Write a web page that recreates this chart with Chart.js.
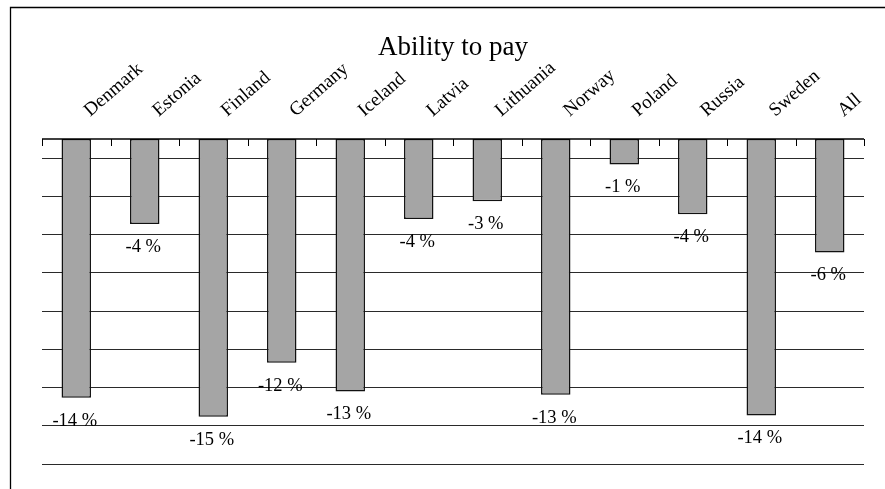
<!DOCTYPE html>
<html><head><meta charset="utf-8">
<script src="https://cdn.jsdelivr.net/npm/chart.js@4/dist/chart.umd.min.js"></script>
<style>html,body{margin:0;padding:0;background:#fff;}canvas{display:block;}</style>
</head><body>
<canvas id="c" width="885" height="489"></canvas>
<script>
const chartTitle = "Ability to pay";
const categories = ["Denmark","Estonia","Finland","Germany","Iceland","Latvia","Lithuania","Norway","Poland","Russia","Sweden","All"];
const values = [-13.54,-4.45,-14.53,-11.70,-13.21,-4.19,-3.25,-13.38,-1.34,-3.93,-14.46,-5.94];
const gridTicks = [-17,-15,-13,-11,-9,-7,-5,-3,-1];
const yMin = -17, yMax = 0;

const SERIF = '"Liberation Serif", "Times New Roman", serif';

const overlay = {
  id: 'overlay',
  beforeDraw(chart) {
    const ctx = chart.ctx;
    ctx.save();
    ctx.fillStyle = '#fff';
    ctx.fillRect(0, 0, chart.width, chart.height);
    ctx.restore();
  },
  afterDatasetsDraw(chart) {
    const ctx = chart.ctx, a = chart.chartArea, x = chart.scales.x, y = chart.scales.y;
    const y0 = y.getPixelForValue(0);
    const step = x.getPixelForValue(1) - x.getPixelForValue(0);
    ctx.save();
    // outer frame (left + top)
    ctx.strokeStyle = '#000';
    ctx.lineWidth = 1.3;
    ctx.beginPath();
    ctx.moveTo(10.5, chart.height); ctx.lineTo(10.5, 7.5); ctx.lineTo(chart.width, 7.5);
    ctx.stroke();
    // category axis line
    ctx.lineWidth = 1.5;
    ctx.beginPath(); ctx.moveTo(a.left, y0); ctx.lineTo(a.right, y0); ctx.stroke();
    // tick marks at category boundaries, pointing inside
    ctx.lineWidth = 1;
    ctx.beginPath();
    for (let i = 0; i <= categories.length; i++) {
      const px = Math.round(x.getPixelForValue(0) - step / 2 + i * step) + 0.5;
      ctx.moveTo(px, y0); ctx.lineTo(px, y0 + 7);
    }
    ctx.stroke();
    // title
    ctx.fillStyle = '#000';
    ctx.font = '27px ' + SERIF;
    ctx.textAlign = 'center';
    ctx.textBaseline = 'alphabetic';
    ctx.fillText(chartTitle, (a.left + a.right) / 2, 55);
    // rotated category labels
    ctx.font = '19px ' + SERIF;
    ctx.textAlign = 'left';
    categories.forEach((c, i) => {
      const px = x.getPixelForValue(i);
      ctx.save();
      ctx.translate(px + 14, 117);
      ctx.rotate(-41 * Math.PI / 180);
      ctx.fillText(c, 0, 0);
      ctx.restore();
    });
    // value labels under bar ends
    ctx.font = '18.5px ' + SERIF;
    ctx.textAlign = 'center';
    ctx.textBaseline = 'middle';
    const meta = chart.getDatasetMeta(0);
    values.forEach((v, i) => {
      const bar = meta.data[i];
      ctx.fillText(Math.round(v) + ' %', bar.x - 1.5, y.getPixelForValue(v) + 23);
    });
    ctx.restore();
  }
};

new Chart(document.getElementById('c'), {
  type: 'bar',
  data: {
    labels: categories,
    datasets: [{
      data: values,
      backgroundColor: '#a5a5a5',
      borderColor: '#111',
      borderWidth: 1.5,
      borderSkipped: false,
      barPercentage: 0.43,
      categoryPercentage: 1.0
    }]
  },
  options: {
    responsive: false,
    animation: false,
    devicePixelRatio: 1,
    layout: { padding: { left: 42, right: 21, top: 139, bottom: 25 } },
    plugins: { legend: { display: false }, tooltip: { enabled: false }, title: { display: false } },
    scales: {
      x: { display: false, offset: true },
      y: {
        min: yMin, max: yMax,
        afterBuildTicks: (s) => { s.ticks = gridTicks.map(v => ({ value: v })); },
        ticks: { display: false },
        border: { display: false },
        grid: { color: '#2a2a2a', lineWidth: 1, drawTicks: false }
      }
    }
  },
  plugins: [overlay]
});
</script>
</body></html>
